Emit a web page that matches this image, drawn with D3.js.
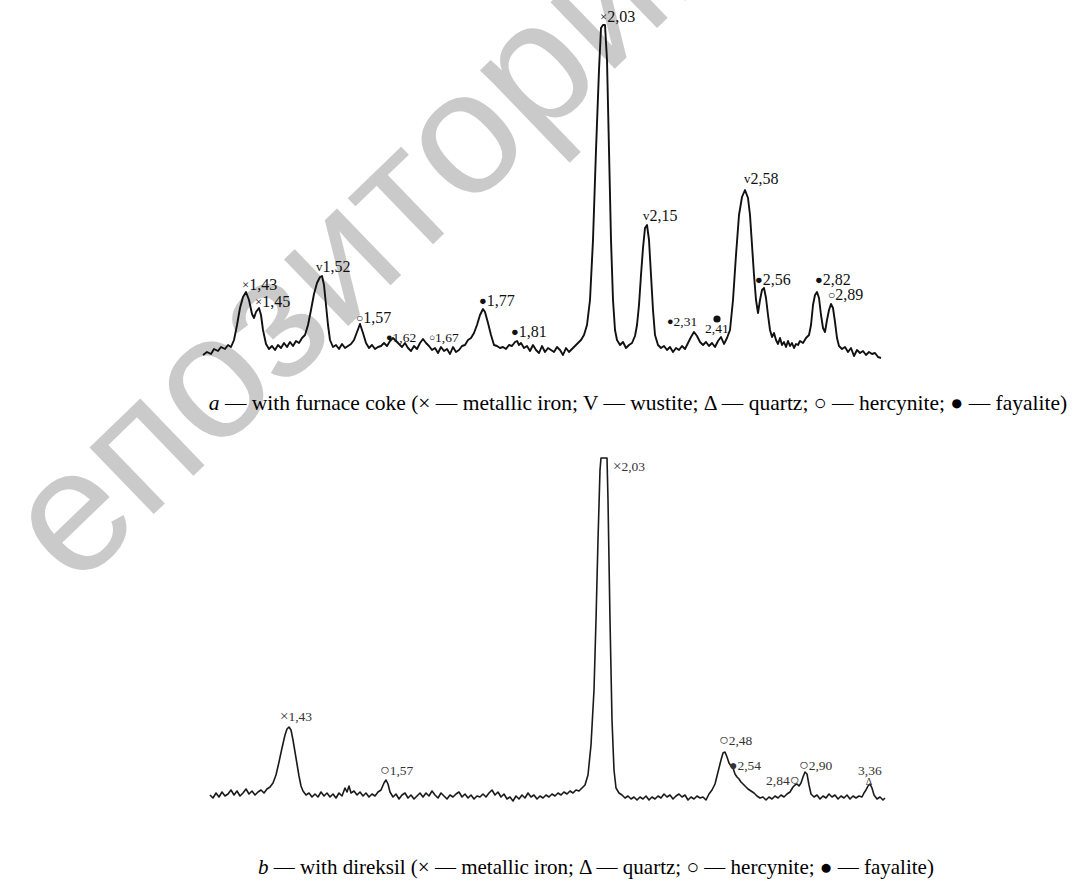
<!DOCTYPE html>
<html>
<head>
<meta charset="utf-8">
<script src="https://cdn.jsdelivr.net/npm/d3@7/dist/d3.min.js"></script>
<style>
  html, body { margin: 0; padding: 0; background: #fff; }
  svg { display: block; }
</style>
</head>
<body>
<svg id="chart" width="1077" height="885"></svg>
<script>
// ---------- DATA (channel = arbitrary diffraction-angle units, intensity = arbitrary counts) ----------
const topChannel = [3,7,11,14,18,21,25,28,31,34,37,40,43,46,49,52,54,56,59,61,63,66,69,72,75,78,81,84,87,90,93,96,99,102,105,108,111,114,117,120,122,124,126,128,130,133,136,139,142,145,148,151,154,157,160,163,166,169,172,175,178,181,184,187,190,193,196,199,202,205,208,211,214,217,220,223,226,229,232,235,238,241,244,247,250,253,256,259,262,265,268,271,274,277,280,283,285,288,291,294,297,300,303,306,309,312,315,317,319,321,324,327,330,333,336,339,342,345,348,351,354,357,360,363,366,369,372,375,378,381,384,387,390,393,396,399,401,403,405,407,409,411,413,415,417,420,423,426,429,432,435,437,439,441,443,445,447,449,451,453,455,458,461,464,467,470,473,476,479,482,485,488,491,494,497,500,503,506,509,512,515,518,521,524,527,530,533,536,539,542,545,548,550,552,554,556,558,560,562,564,566,568,570,572,574,576,578,580,582,584,586,588,590,592,594,596,598,600,603,606,609,611,613,615,617,619,621,623,625,627,629,631,633,635,637,639,642,645,648,651,654,657,660,663,666,669,672,675,678,681];
const topIntensity = [7,10,8,13,11,15,13,17,15,22,37,54,65,70,62,48,44,50,54,47,32,18,13,16,12,17,14,19,15,20,16,21,19,24,27,37,52,68,79,85,86,77,57,37,22,15,17,13,18,14,16,18,22,30,38,29,19,14,17,13,15,16,19,16,21,24,21,18,15,19,14,11,16,13,19,23,19,16,12,14,9,15,11,13,8,15,10,12,16,17,22,24,29,37,47,53,50,39,27,17,16,14,15,13,17,16,20,21,17,19,14,16,11,17,12,9,16,10,14,12,10,15,12,7,14,10,13,16,19,22,27,37,62,122,212,292,334,337,337,302,212,122,62,32,22,17,20,14,17,19,26,37,57,87,114,134,137,122,87,52,27,17,14,16,12,15,10,14,12,16,13,19,25,30,26,20,17,20,16,19,15,21,25,18,24,32,62,107,147,165,172,164,147,117,87,62,49,62,72,74,64,47,32,25,29,22,18,24,17,20,15,21,16,19,14,18,17,21,19,24,27,37,57,67,70,64,47,34,30,42,52,58,54,40,24,16,13,15,10,14,6,12,9,11,7,10,8,9,5,4];

const botChannel = [10,13,16,19,22,25,28,31,34,37,40,43,46,49,52,55,58,61,64,67,70,73,76,79,82,85,87,89,91,93,95,97,99,101,103,106,109,112,115,118,121,124,127,130,133,136,139,142,145,147,149,151,154,157,160,163,166,169,172,175,178,181,184,186,188,190,193,196,199,202,205,208,211,214,217,220,223,226,229,232,235,238,241,244,247,250,253,256,259,262,265,268,271,274,277,280,283,286,289,292,295,298,301,304,307,310,313,316,319,322,325,328,331,334,337,340,343,346,349,352,355,358,361,364,367,370,373,376,379,382,385,388,391,394,396,398,400,401,407,408,410,412,414,416,419,422,425,428,431,434,437,440,443,446,449,452,455,458,461,464,467,470,473,476,479,482,485,488,491,494,497,500,503,506,509,512,515,518,521,523,525,527,529,531,533,535,537,539,541,543,545,548,551,554,557,560,563,566,569,572,575,578,581,584,587,590,593,595,597,599,601,603,605,607,609,611,614,617,620,623,626,629,632,635,638,641,644,647,650,653,656,659,662,664,666,668,670,672,674,677,680,683,685];
const botIntensity = [10,7,12,8,13,9,11,15,10,14,9,12,16,11,14,10,13,15,12,16,18,22,30,43,57,70,76,78,75,65,53,41,29,19,14,10,12,8,11,8,13,9,12,8,11,7,12,9,17,13,19,12,14,10,13,9,12,8,11,9,13,15,22,25,21,13,8,11,6,10,12,7,10,6,9,12,8,12,9,14,10,7,12,9,6,10,8,11,13,8,11,7,10,6,9,8,11,8,12,15,10,13,8,11,6,8,4,9,6,10,7,12,8,10,6,9,7,10,8,11,9,12,10,13,11,14,12,15,14,17,20,30,60,115,185,265,335,347,347,305,185,85,35,17,12,10,7,9,6,8,5,8,6,9,5,8,6,9,7,11,8,10,6,9,11,8,10,5,8,6,9,7,8,5,11,15,21,33,45,52,53,48,42,39,37,31,28,26,23,21,19,16,14,12,9,7,8,5,8,6,9,7,10,8,11,13,18,20,21,19,22,28,33,31,20,11,8,10,6,9,7,11,8,10,6,9,7,10,6,9,7,9,8,12,15,19,21,17,10,6,8,5,7];

// peak annotations: phase symbol, d-spacing label, anchor (channel, intensity)
const topLabelSymbols   = ["×","×","v","○","●","○","●","●","×","v","●","●","v","●","●","○"];
const topLabelValues    = ["1,43","1,45","1,52","1,57","1,62","1,67","1,77","1,81","2,03","2,15","2,31","2,41","2,58","2,56","2,82","2,89"];
const topLabelChannel   = [42,55,116,156,186,229,279,311,400,443,467,505,544,555,615,628];
const topLabelIntensity = [72,55,90,39,20,20,56,25,340,141,36,29,178,77,77,62];

const botLabelSymbols   = ["×","○","×","○","●","○","○","Δ"];
const botLabelValues    = ["1,43","1,57","2,03","2,48","2,54","2,84","2,90","3,36"];
const botLabelChannel   = [80,180,413,519,529,566,599,658];
const botLabelIntensity = [84,30,334,60,35,20,35,30];

const captionA = ["a", " — with furnace coke (× — metallic iron; V — wustite; Δ — quartz; ○ — hercynite; ● — fayalite)"];
const captionB = ["b", " — with direksil (× — metallic iron; Δ — quartz; ○ — hercynite; ● — fayalite)"];
const watermark = "епозиторий";

// ---------- DRAWING ----------
const svg = d3.select("#chart");
const serif = "'Liberation Serif','Times New Roman',serif";

// watermark behind everything
svg.append("text")
  .attr("transform", "translate(75,590) rotate(-44)")
  .attr("font-family", "'Liberation Sans',Arial,sans-serif")
  .attr("font-size", 175)
  .attr("fill", "#cacaca")
  .text(watermark);

// panel a
const xA = d3.scaleLinear().domain([0, 685]).range([200, 885]);
const yA = d3.scaleLinear().domain([0, 337]).range([362, 25]);
const topData = topChannel.map((c, i) => [c, topIntensity[i]]);
svg.append("path")
  .datum(topData)
  .attr("fill", "none")
  .attr("stroke", "#111")
  .attr("stroke-width", 1.9)
  .attr("stroke-linejoin", "round")
  .attr("d", d3.line().x(d => xA(d[0])).y(d => yA(d[1])));

const smallTop = new Set(["1,62", "1,67", "2,31", "2,41"]);
const gA = svg.append("g").attr("font-family", serif).attr("fill", "#111");
topLabelValues.forEach((v, i) => {
  const fs = smallTop.has(v) ? 13.5 : 16;
  const x = xA(topLabelChannel[i]), y = yA(topLabelIntensity[i]);
  const sym = topLabelSymbols[i];
  if (v === "2,41") {
    gA.append("circle").attr("cx", x + 12).attr("cy", y - 14).attr("r", 3.6).attr("fill", "#111");
    gA.append("text").attr("x", x).attr("y", y).attr("font-size", fs).text(v);
    return;
  }
  const t = gA.append("text").attr("x", x).attr("y", y).attr("font-size", fs);
  const symSize = sym === "●" ? fs * 0.8 : (sym === "○" ? fs * 0.75 : fs * 0.8);
  t.append("tspan").attr("font-size", symSize).attr("dy", -1).text(sym);
  t.append("tspan").attr("dy", 1).text(v);
});

// panel b
const xB = d3.scaleLinear().domain([0, 685]).range([200, 885]);
const yB = d3.scaleLinear().domain([0, 347]).range([805, 458]);
const botData = botChannel.map((c, i) => [c, botIntensity[i]]);
svg.append("path")
  .datum(botData)
  .attr("fill", "none")
  .attr("stroke", "#1a1a1a")
  .attr("stroke-width", 1.6)
  .attr("stroke-linejoin", "round")
  .attr("d", d3.line().x(d => xB(d[0])).y(d => yB(d[1])));

const gB = svg.append("g").attr("font-family", serif).attr("fill", "#333").attr("font-size", 13.5);
botLabelValues.forEach((v, i) => {
  const x = xB(botLabelChannel[i]), y = yB(botLabelIntensity[i]);
  const sym = botLabelSymbols[i];
  if (v === "2,84") {
    const t = gB.append("text").attr("x", x).attr("y", y);
    t.append("tspan").text(v);
    t.append("tspan").attr("font-size", 16).text(sym);
  } else if (v === "3,36") {
    gB.append("text").attr("x", x).attr("y", y).text(v);
    gB.append("text").attr("x", x + 11).attr("y", y + 10).attr("font-size", 10)
      .attr("text-anchor", "middle").text(sym);
  } else {
    const t = gB.append("text").attr("x", x).attr("y", y);
    t.append("tspan").attr("font-size", sym === "●" ? 14 : (sym === "○" ? 16 : 15)).text(sym);
    t.append("tspan").text(v);
  }
});

// captions
function caption(parts, cx, cy, fs) {
  const t = svg.append("text").attr("x", cx).attr("y", cy)
    .attr("text-anchor", "middle").attr("font-family", serif)
    .attr("font-size", fs).attr("fill", "#000");
  t.append("tspan").attr("font-style", "italic").text(parts[0]);
  t.append("tspan").text(parts[1]);
}
caption(captionA, 638, 410, 21.5);
caption(captionB, 596, 874, 21);
</script>
</body>
</html>
